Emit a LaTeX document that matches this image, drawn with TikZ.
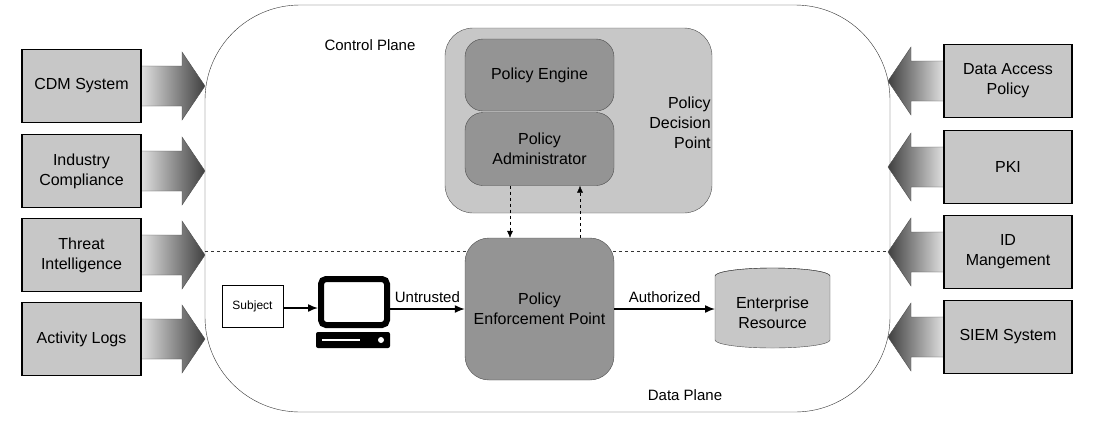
\documentclass[tikz,border=0pt]{standalone}
\usepackage{fontspec}
\setmainfont{Liberation Sans}
\usetikzlibrary{shapes.geometric,arrows.meta}
\begin{document}
\begin{tikzpicture}[x=1pt,y=-1pt,
  src/.style={draw=black,line width=1.5pt,fill=black!22,minimum width=119pt,minimum height=73pt,align=center,font=\fontsize{16}{20}\selectfont},
  rb/.style={draw=black!70,rounded corners=18pt,align=center,font=\fontsize{16}{20}\selectfont},
  lbl/.style={font=\fontsize{15}{18}\selectfont},
  conn/.style={-{Latex[length=10pt,width=8pt]},line width=1.5pt},
  dconn/.style={-{Latex[length=7pt,width=6pt]},dashed}]
\useasboundingbox (0,0) rectangle (1100,429);
\newcommand{\rarrow}[2]{%
  \shade[left color=black!12,right color=black!75,draw=black!70]
   (#1,#2-20) -- (#1+41,#2-20) -- (#1+41,#2-34) -- (#1+64,#2) -- (#1+41,#2+34) -- (#1+41,#2+20) -- (#1,#2+20) -- cycle;}
\newcommand{\larrow}[2]{%
  \shade[right color=black!12,left color=black!75,draw=black!70]
   (#1,#2-20) -- (#1-33,#2-20) -- (#1-33,#2-34) -- (#1-56,#2) -- (#1-33,#2+34) -- (#1-33,#2+20) -- (#1,#2+20) -- cycle;}
\draw[black!80,rounded corners=95pt] (205,5) rectangle (890,412);
\node[lbl] (cp) at (370,45) {Control Plane};
\node[lbl] (dp) at (685,395) {Data Plane};
\draw[dashed,black!80] (205,251) -- (890,251);
\foreach \y in {86,171,255,339} {\rarrow{141}{\y}}
\node[src] (cdm) at (81.5,86) {CDM System};
\node[src] (ic) at (81.5,171) {Industry\\Compliance};
\node[src] (ti) at (81.5,255) {Threat\\Intelligence};
\node[src] (al) at (81.5,339) {Activity Logs};
\foreach \y in {81,167,252,337} {\larrow{944}{\y}}
\node[src,minimum width=128pt] (dap) at (1008,81) {Data Access\\Policy};
\node[src,minimum width=128pt] (pki) at (1008,167) {PKI};
\node[src,minimum width=128pt] (idm) at (1008,252) {ID\\Mangement};
\node[src,minimum width=128pt] (siem) at (1008,337) {SIEM System};
\node[rb,fill=black!22,minimum width=267pt,minimum height=185pt,rounded corners=28pt] (pdp) at (578.5,120.5) {};
\node[lbl,align=right,font=\fontsize{16}{20}\selectfont] (pdpl) at (680,123) {Policy\\Decision\\Point};
\node[rb,fill=black!42,minimum width=149pt,minimum height=72pt] (pe) at (539.5,75) {Policy Engine};
\node[rb,fill=black!42,minimum width=149pt,minimum height=73pt] (pa) at (539.5,149) {Policy\\Administrator};
\node[rb,fill=black!42,minimum width=149pt,minimum height=142pt,rounded corners=24pt] (pep) at (539.5,309) {Policy\\Enforcement Point};
\draw[dconn] (pa.south -| 510,0) -- (pep.north -| 510,0);
\draw[dconn] (pep.north -| 580,0) -- (pa.south -| 580,0);
\node[draw=black,line width=1pt,minimum width=61pt,minimum height=42pt,font=\fontsize{12}{14}\selectfont] (subj) at (252.5,306) {Subject};
\node[draw=black,line width=6pt,fill=white,rounded corners=5pt,minimum width=66pt,minimum height=46pt,inner sep=0pt] (comp) at (354,302) {};
\fill[black,rounded corners=2pt] (316,332) rectangle (390,348);
\draw[white,line width=1.5pt] (322,340) -- (360,340);
\fill[white] (381,340) circle (3pt);
\coordinate (erw) at (715,309);
\draw[conn] (subj.east |- 0,308) -- (comp.west |- 0,308);
\draw[conn] (comp.east |- erw) -- node[above,lbl,yshift=2pt]{Untrusted} (pep.west |- erw);
% resource cylinder
\filldraw[draw=black!70,fill=black!22] (715,276) -- (715,340) arc[start angle=180,end angle=360,x radius=57.5pt,y radius=8pt] -- (830,276) arc[start angle=0,end angle=180,x radius=57.5pt,y radius=8pt] -- cycle;
\draw[black!70] (715,276) arc[start angle=180,end angle=360,x radius=57.5pt,y radius=-8pt];
\node[align=center,font=\fontsize{16}{20}\selectfont] (er) at (772.5,313) {Enterprise\\Resource};
\draw[conn] (pep.east |- erw) -- node[above,lbl,yshift=2pt]{Authorized} (erw);
\end{tikzpicture}
\end{document}
